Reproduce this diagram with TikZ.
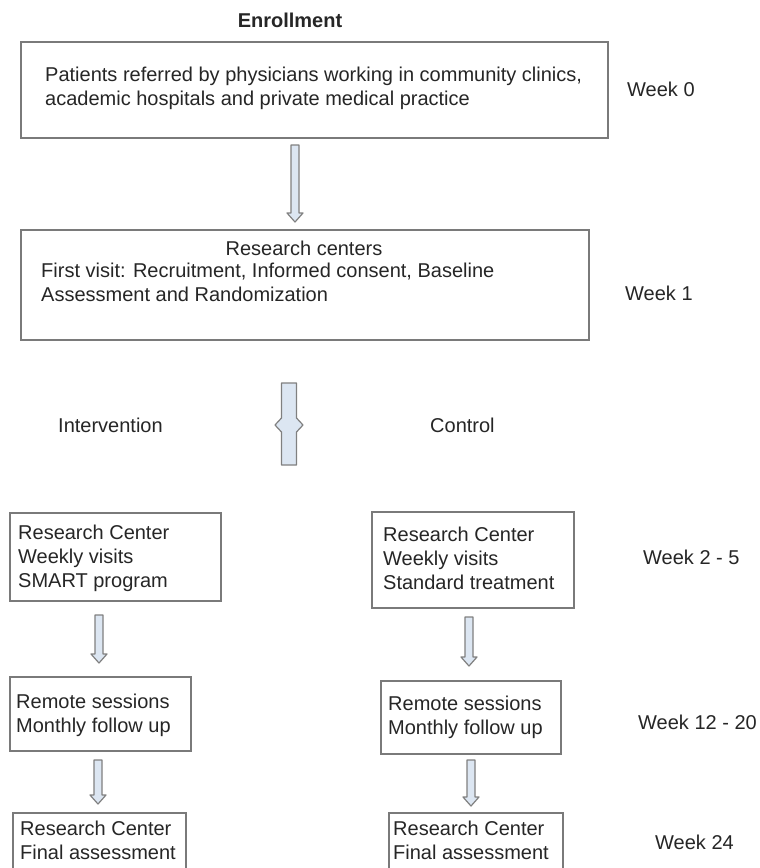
\documentclass[tikz,border=0pt]{standalone}
\usepackage{fontspec}
\setmainfont{Liberation Sans}
\usetikzlibrary{calc}
\definecolor{boxline}{HTML}{7A7A7A}
\definecolor{txtcol}{HTML}{262626}
\definecolor{arrfill}{HTML}{DCE6F2}
\definecolor{arrline}{HTML}{808080}
\tikzset{
  box/.style={draw=boxline, line width=1.6pt, inner sep=0pt, anchor=north west},
  txt/.style={text=txtcol, font=\fontsize{20}{24}\selectfont, align=left, inner sep=0pt, anchor=west},
  barrow/.style={draw=arrline, fill=arrfill, line width=1.2pt, line join=round}
}
\newcommand\blockarrow[2]{%
  \draw[barrow] let \p1=(#1), \p2=(#2) in
    (\x1-4pt,\y1) -- (\x1+4pt,\y1) -- (\x1+4pt,\y2+9pt) -- (\x1+8pt,\y2+9pt)
    -- (\x2,\y2) -- (\x1-8pt,\y2+9pt) -- (\x1-4pt,\y2+9pt) -- cycle;}
\begin{document}
\begin{tikzpicture}[x=1pt,y=-1pt]
\useasboundingbox (0,0) rectangle (760,868);
\clip (0,0) rectangle (760,868);
\fill[white] (0,0) rectangle (760,868);

% title
\node[txt, anchor=center, font=\bfseries\fontsize{20}{24}\selectfont] (enr) at (290,20) {Enrollment};

% box 1
\node[box, minimum width=587pt, minimum height=96pt] (b1) at (20,41) {};
\node[txt] (b1t) at (45,88) {Patients referred by physicians working in community clinics,\\academic hospitals and private medical practice};
\node[txt] (w0) at (627,89) {Week 0};

% arrow 1
\coordinate (a1s) at (295,145);
\coordinate (a1e) at (295,222);
\blockarrow{a1s}{a1e}

% box 2
\node[box, minimum width=568pt, minimum height=110pt] (b2) at (20,229) {};
\node[txt, anchor=center] (b2h) at (304,248) {Research centers};
\node[txt, anchor=north west] (b2t) at (41,263) {First visit: Recruitment, Informed consent, Baseline\\Assessment and Randomization};
\node[txt] (w1) at (625,293) {Week 1};

% split arrow
\coordinate (sp) at (289,425);
\draw[barrow] (281.5,383) -- (296.5,383) -- (296.5,418) -- (303,425) -- (296.5,432)
  -- (296.5,465) -- (281.5,465) -- (281.5,432) -- (275,425) -- (281.5,418) -- cycle;
\node[txt] (int) at (58,425) {Intervention};
\node[txt] (ctl) at (430,425) {Control};

% row 1
\node[box, minimum width=211pt, minimum height=88pt] (l1) at (9,512) {};
\node[txt] (l1t) at (18,558) {Research Center\\Weekly visits\\SMART program};
\node[box, minimum width=202pt, minimum height=96pt] (r1) at (371,511) {};
\node[txt] (r1t) at (383,558) {Research Center\\Weekly visits\\Standard treatment};
\node[txt] (w25) at (643,557) {Week 2 - 5};

\coordinate (al1s) at (99,615);  \coordinate (al1e) at (99,663);
\coordinate (ar1s) at (469,617); \coordinate (ar1e) at (469,666);
\blockarrow{al1s}{al1e}
\blockarrow{ar1s}{ar1e}

% row 2
\node[box, minimum width=181pt, minimum height=74pt] (l2) at (9,676) {};
\node[txt] (l2t) at (16,715) {Remote sessions\\Monthly follow up};
\node[box, minimum width=180pt, minimum height=73pt] (r2) at (380,680) {};
\node[txt] (r2t) at (388,717) {Remote sessions\\Monthly follow up};
\node[txt] (w1220) at (638,722) {Week 12 - 20};

\coordinate (al2s) at (98,760);  \coordinate (al2e) at (98,804);
\coordinate (ar2s) at (471,760); \coordinate (ar2e) at (471,806);
\blockarrow{al2s}{al2e}
\blockarrow{ar2s}{ar2e}

% row 3
\node[box, minimum width=173pt, minimum height=70pt] (l3) at (12,812) {};
\node[txt] (l3t) at (20,840) {Research Center\\Final assessment};
\node[box, minimum width=174pt, minimum height=70pt] (r3) at (388,812) {};
\node[txt] (r3t) at (393,840) {Research Center\\Final assessment};
\node[txt] (w24) at (655,842) {Week 24};
\end{tikzpicture}
\end{document}
